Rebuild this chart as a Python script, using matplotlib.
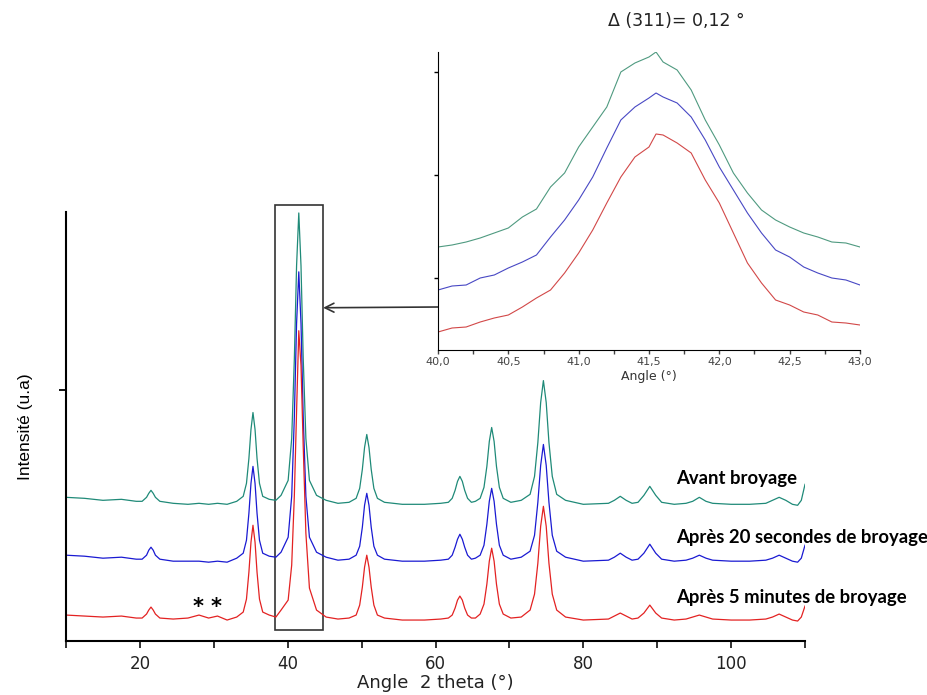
import numpy as np
import matplotlib
matplotlib.use("Agg")
import matplotlib.pyplot as plt
from matplotlib.patches import Rectangle

# --- main pattern: 2theta grid and intensities (u.a, stacked) ---
two_theta = [10, 12.5, 15, 17.5, 19.5,
             20.3, 20.9, 21.2, 21.5, 21.8, 22.1, 22.7,
             24.5, 26.5, 28, 29.3, 30.5, 31.8,
             33.1, 33.98, 34.42, 34.75, 35.03, 35.3, 35.58, 35.85, 36.18, 36.62, 37.5,
             38.4, 39.1, 40.06, 40.54, 40.9, 41.2, 41.5, 41.8, 42.1, 42.46, 42.94, 43.9, 45.2,
             46.8,
             48.3, 49.26, 49.74, 50.1, 50.4, 50.7, 51.0, 51.3, 51.66, 52.14, 53.1,
             55.5, 58.5,
             60.7, 61.74, 62.26, 62.65, 62.98, 63.3, 63.63, 63.95, 64.34, 64.86,
             65.4,
             66.04, 66.56, 66.95, 67.28, 67.6, 67.93, 68.25, 68.64, 69.16, 70.2,
             71.6, 72.8, 73.4, 73.85, 74.23, 74.6, 74.98, 75.35, 75.8, 76.4, 77.6,
             80,
             83.4, 84.2, 85, 85.8, 86.6,
             87.4, 88.2, 89, 89.8, 90.6,
             92.3,
             93.9, 94.8, 95.7, 96.6, 97.5,
             100, 102.5,
             104.7, 105.6, 106.5, 107.4, 108.3,
             109.0, 109.5, 110]

avant = [144, 143, 141, 142, 140,
         140, 144, 148, 151, 148, 144, 140,
         138, 137, 138, 137, 138, 137,
         140, 145, 158, 183, 212, 229, 212, 183, 158, 145, 142,
         141, 146, 161, 203, 283, 376, 429, 376, 283, 203, 161, 146, 141,
         138,
         139, 143, 153, 172, 194, 207, 194, 172, 153, 143, 139,
         137, 137,
         138, 139, 143, 151, 160, 165, 160, 151, 143, 139,
         140,
         143, 154, 175, 200, 214, 200, 175, 154, 143, 139,
         141, 147, 165, 199, 239, 261, 239, 199, 165, 147, 141,
         137,
         138, 141, 145, 141, 138,
         139, 146, 155, 146, 139,
         137,
         138, 140, 144, 140, 138,
         137, 137,
         138, 141, 144, 141, 137,
         136, 141, 157]

apres_20s = [86, 85, 83, 84, 82,
             82, 86, 91, 94, 91, 86, 82,
             80, 80, 80, 79, 80, 79,
             83, 88, 101, 128, 158, 175, 158, 128, 101, 88, 85,
             84, 89, 104, 145, 225, 318, 370, 318, 225, 145, 104, 89, 84,
             81,
             82, 86, 95, 114, 136, 148, 136, 114, 95, 86, 82,
             80, 80,
             81, 82, 86, 94, 102, 107, 102, 94, 86, 82,
             83,
             86, 96, 117, 140, 153, 140, 117, 96, 86, 82,
             84, 90, 106, 139, 176, 197, 176, 139, 106, 90, 84,
             80,
             81, 84, 88, 84, 81,
             82, 88, 97, 88, 82,
             80,
             81, 83, 86, 83, 81,
             80, 80,
             81, 83, 86, 83, 80,
             79, 83, 96]

apres_5min = [26, 25, 24, 25, 23,
              23, 27, 31, 34, 31, 27, 23,
              22, 23, 26, 23, 25, 21,
              24, 29, 42, 69, 99, 116, 99, 69, 42, 29, 26,
              24, 31, 41, 76, 146, 230, 311, 276, 195, 108, 53, 31, 24,
              22,
              23, 26, 36, 54, 74, 86, 74, 54, 36, 26, 23,
              21, 21,
              22, 23, 26, 33, 41, 45, 41, 33, 26, 23,
              23,
              27, 37, 57, 80, 93, 80, 57, 37, 27, 23,
              24, 31, 47, 78, 115, 135, 115, 78, 47, 31, 24,
              21,
              22, 25, 28, 25, 22,
              23, 28, 36, 28, 23,
              21,
              22, 24, 26, 24, 22,
              21, 21,
              22, 24, 27, 24, 21,
              20, 24, 35]

labels = ["Avant broyage", "Après 20 secondes de broyage", "Après 5 minutes de broyage"]
label_y = [163, 104, 44]

# --- zoom on the (311) peak ---
angle_zoom = [40.0, 40.1, 40.2, 40.3, 40.4, 40.5, 40.6, 40.7, 40.8, 40.9,
              41.0, 41.1, 41.2, 41.3, 41.4, 41.5, 41.55, 41.6, 41.7, 41.8, 41.9,
              42.0, 42.1, 42.2, 42.3, 42.4, 42.5, 42.6, 42.7, 42.8, 42.9, 43.0]
zoom_avant = [103, 105, 108, 112, 117, 122, 133, 141, 163, 177,
              203, 223, 243, 278, 287, 293, 298, 288, 280, 260, 230,
              205, 177, 157, 140, 130, 123, 117, 113, 108, 107, 103]
zoom_20s = [60, 64, 65, 72, 75, 82, 88, 95, 113, 130,
            150, 173, 202, 230, 243, 252, 257, 253, 247, 233, 210,
            183, 160, 137, 117, 100, 93, 83, 77, 72, 70, 65]
zoom_5min = [18, 22, 23, 28, 32, 35, 43, 52, 60, 77,
             97, 120, 147, 173, 193, 203, 216, 215, 207, 197, 170,
             147, 117, 87, 67, 50, 45, 38, 35, 28, 27, 25]

main_colors = ["#1f8a78", "#1a1ad2", "#e32222"]
zoom_colors = ["#4f9a80", "#4848c4", "#d24848"]

fig = plt.figure(figsize=(9.27, 6.95), dpi=100)

# main axes
ax = fig.add_axes([0.0712, 0.0777, 0.7972, 0.6173])
for y, c in zip([avant, apres_20s, apres_5min], main_colors):
    ax.plot(two_theta, y, color=c, lw=0.9)

ax.set_xlim(10, 110)
ax.set_ylim(0, 430)
ax.set_xticks([20, 40, 60, 80, 100])
ax.set_xticks([10, 30, 50, 70, 90, 110], minor=True)
ax.set_yticks([252])
ax.set_yticklabels([])
ax.tick_params(axis="x", which="both", direction="out", length=5, width=1.3,
               labelsize=12, colors="#222", pad=5)
ax.tick_params(axis="y", direction="out", length=5, width=1.3)
for s in ["top", "right"]:
    ax.spines[s].set_visible(False)
for s in ["left", "bottom"]:
    ax.spines[s].set_linewidth(1.5)
ax.set_xlabel("Angle  2 theta (°)", fontsize=13, color="#222", labelpad=1)
ax.set_ylabel("Intensité (u.a)", fontsize=12.5, family="Liberation Sans", labelpad=15)

for lab, ly in zip(labels, label_y):
    ax.text(92.5, ly, lab, fontsize=13.3, fontweight="bold", family="Lato",
            va="center", ha="left", clip_on=False)
ax.text(27.9, 34, "*", fontsize=15, fontweight="bold", ha="center", va="center")
ax.text(30.3, 34, "*", fontsize=15, fontweight="bold", ha="center", va="center")

# box around the (311) peak
ax.add_patch(Rectangle((38.3, 11), 6.5, 426, fill=False, ec="#333", lw=1.2, clip_on=False))

# inset
ins = fig.add_axes([0.4725, 0.4964, 0.4552, 0.4288])
for y, c in zip([zoom_avant, zoom_20s, zoom_5min], zoom_colors):
    ins.plot(angle_zoom, y, color=c, lw=0.8)
ins.set_xlim(40, 43)
ins.set_ylim(0, 298)
ins.set_xticks(np.arange(40, 43.01, 0.5))
ins.set_xticklabels(["40,0", "40,5", "41,0", "41,5", "42,0", "42,5", "43,0"])
ins.set_xticks(np.arange(40.25, 43, 0.5), minor=True)
ins.set_yticks([72, 175, 278])
ins.set_yticklabels([])
ins.tick_params(axis="x", which="both", direction="out", length=3, width=1,
                labelsize=8, colors="#444", pad=2)
ins.tick_params(axis="y", direction="out", length=3, width=1)
for s in ["top", "right"]:
    ins.spines[s].set_visible(False)
ins.patch.set_alpha(0)
ins.set_xlabel("Angle (°)", fontsize=9, color="#333", labelpad=2)
fig.text(0.730, 0.970, "Δ (311)= 0,12 °", fontsize=12.5, ha="center", va="center", color="#222")

# arrow from inset to the box
ax.annotate("", xy=(44.8, 334), xycoords="data",
            xytext=(0.4725, 1 - 307 / 695), textcoords="figure fraction",
            arrowprops=dict(arrowstyle="->", color="#333", lw=1.2,
                            shrinkA=0, shrinkB=0, mutation_scale=16))

fig.savefig("out.png", dpi=100)
